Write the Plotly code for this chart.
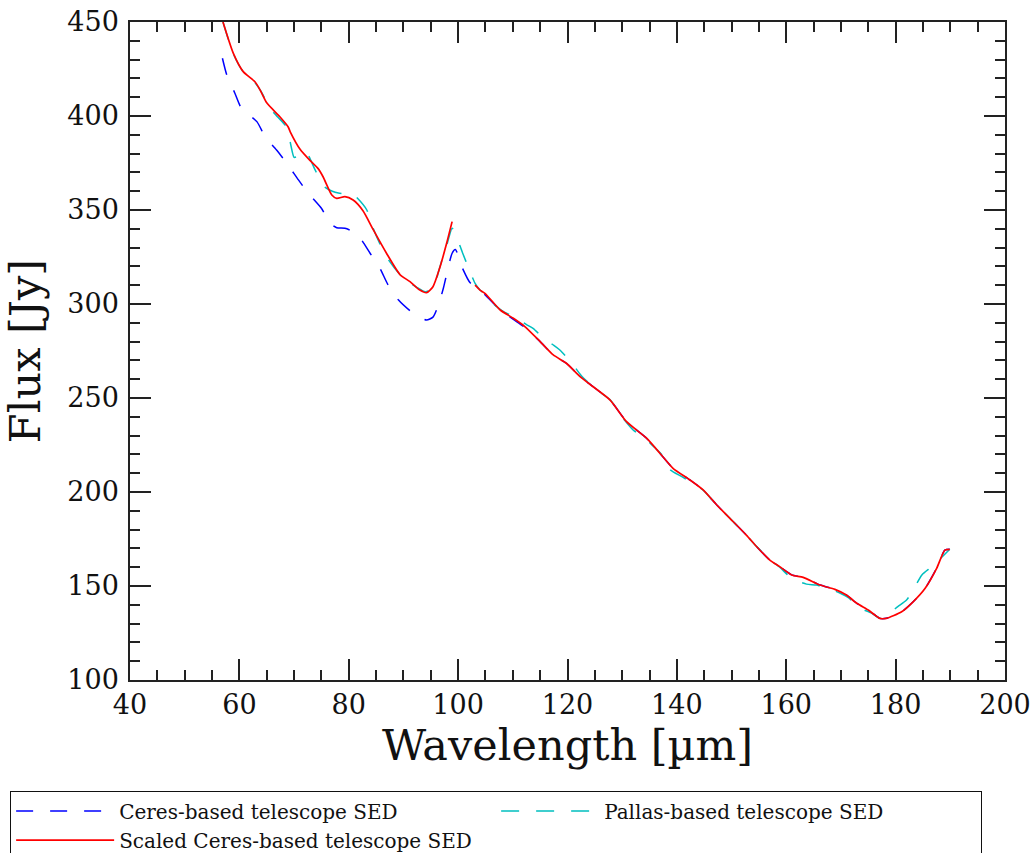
import plotly.graph_objects as go

# ---- data ----
# Ceres-based telescope SED (blue dashed)
ceres_wl = [56.9, 57.7, 59.2, 60.4, 63.2, 64.7, 66.8, 68.9, 70.8, 72.6, 75.0, 76.6, 77.8,
            79.3, 80.8, 82.1, 83.9, 85.7, 87.2, 89.1, 91.8, 94.2, 95.4, 96.4, 97.3, 98.9,
            99.5, 100.8, 102.2, 103.4, 104.9, 107.7, 110.1, 112.2, 115.0, 117.4, 119.8,
            122.3, 124.7, 127.8, 130.8, 134.5, 136.9, 139.3, 142.4, 144.8, 147.3, 149.7,
            152.7, 154.6, 157.0, 158.8, 161.0, 163.1, 166.2, 168.9, 171.0, 172.9, 175.0,
            177.1, 178.3, 181.1, 183.2, 185.4, 187.5, 189.0, 189.9]
ceres_flux = [430.7, 421.8, 412.0, 404.0, 397.0, 389.0, 381.9, 373.9, 366.0, 358.9, 350.9,
              342.9, 340.6, 340.3, 338.5, 335.0, 327.0, 319.0, 310.1, 302.1, 295.0, 291.5,
              293.0, 299.5, 308.4, 327.0, 329.0, 319.0, 311.3, 309.2, 305.0, 296.8, 291.8,
              287.5, 280.0, 272.9, 268.5, 261.4, 256.0, 248.9, 237.4, 228.5, 220.6, 212.6,
              206.4, 201.1, 193.1, 186.0, 177.1, 170.9, 163.8, 160.3, 155.9, 154.6, 150.5,
              148.2, 145.2, 140.8, 137.2, 132.8, 132.8, 136.3, 141.6, 148.8, 159.4, 169.1,
              169.5]

# Pallas-based telescope SED (cyan dashed)
pallas_wl = [57.0, 58.9, 60.7, 62.5, 64.0, 65.5, 67.0, 68.4, 69.3, 70.0, 70.6, 71.3, 72.4,
             73.8, 75.5, 77.0, 78.1, 79.5, 80.5, 81.4, 83.3, 84.5, 85.7, 87.5, 89.4, 91.0,
             92.4, 94.0, 95.5, 96.3, 97.0, 97.9, 98.9, 99.4, 100.8, 102.0, 103.1, 104.0,
             105.0, 106.5, 108.0, 110.7, 112.5, 113.7, 115.9, 117.5, 118.6, 120.8, 122.5,
             125.0, 127.8, 130.5, 132.0, 134.5, 136.0, 137.2, 138.7, 141.0, 144.8, 147.3,
             149.7, 152.7, 154.6, 157.0, 158.8, 161.0, 163.7, 165.5, 167.4, 169.8, 171.5,
             172.9, 175.6, 177.0, 178.0, 180.4, 182.0, 183.2, 184.8, 186.5, 188.0, 189.9]
pallas_flux = [450.0, 433.0, 423.5, 419.0, 413.0, 404.5, 399.5, 395.0, 386.0, 378.0, 378.5,
               381.0, 380.0, 371.6, 362.5, 360.0, 359.0, 358.5, 358.8, 356.8, 350.0, 340.0,
               332.0, 322.5, 315.5, 311.5, 309.0, 306.5, 308.5, 316.0, 323.0, 331.0, 340.3,
               338.0, 327.3, 318.5, 311.0, 307.5, 305.0, 300.0, 296.5, 292.4, 289.0, 287.0,
               281.0, 278.0, 275.5, 268.5, 262.0, 255.0, 249.0, 238.0, 233.0, 227.7, 223.5,
               220.0, 212.0, 208.0, 201.0, 193.0, 186.0, 177.0, 171.0, 164.0, 160.0, 154.0,
               151.0, 150.5, 148.8, 146.3, 143.5, 139.0, 135.6, 133.0, 133.7, 139.0, 142.5,
               147.8, 155.9, 160.0, 164.0, 169.5]

# Scaled Ceres-based telescope SED (red solid, gap near 100 um)
scaled_wl = [57.0, 58.9, 60.7, 62.85, 63.8, 65.0, 67.4, 68.9, 69.3, 71.1, 72.9, 74.4, 75.3,
             76.9, 77.8, 79.3, 80.8, 82.6, 84.5, 86.9, 89.4, 91.2, 93.0, 94.2, 95.4, 96.7,
             97.9, 98.9, None,
             103.1, 104.0, 104.9, 107.7, 110.1, 112.2, 115.0, 117.4, 119.8, 122.3, 124.7,
             127.8, 130.8, 134.5, 136.9, 139.3, 142.4, 144.8, 147.3, 149.7, 152.7, 154.6,
             157.0, 158.8, 161.0, 163.1, 166.2, 168.9, 171.0, 172.9, 175.0, 177.1, 178.3,
             181.1, 183.2, 185.4, 187.5, 189.0, 189.9]
scaled_flux = [450.0, 433.3, 423.6, 418.2, 413.8, 407.0, 399.6, 394.3, 391.6, 382.3, 376.4,
               372.0, 367.7, 358.0, 356.2, 357.1, 355.3, 349.6, 339.4, 327.0, 315.5, 311.9,
               307.4, 306.0, 309.2, 319.8, 332.3, 343.8, None,
               310.0, 307.4, 305.7, 296.8, 292.4, 288.0, 280.0, 272.9, 268.5, 261.4, 256.0,
               248.9, 237.4, 228.5, 220.6, 212.6, 206.4, 201.1, 193.1, 186.0, 177.1, 170.9,
               163.8, 160.3, 155.9, 154.6, 150.5, 148.2, 145.2, 140.8, 137.2, 132.8, 132.8,
               136.3, 141.6, 148.8, 159.4, 169.1, 169.5]

x_ticks = [40, 60, 80, 100, 120, 140, 160, 180, 200]
y_ticks = [100, 150, 200, 250, 300, 350, 400, 450]

FONT = "DejaVu Serif"
AX = "#222222"

fig = go.Figure()
fig.add_trace(go.Scatter(x=ceres_wl, y=ceres_flux, mode="lines",
                         name="Ceres-based telescope SED", legendrank=1,
                         line=dict(color="#0000ff", width=1.5, dash="17px,17px",
                                   shape="spline", smoothing=0.6)))
fig.add_trace(go.Scatter(x=pallas_wl, y=pallas_flux, mode="lines",
                         name="Pallas-based telescope SED", legendrank=2,
                         line=dict(color="#00bfbf", width=1.5, dash="18px,17px",
                                   shape="spline", smoothing=0.6)))
fig.add_trace(go.Scatter(x=scaled_wl, y=scaled_flux, mode="lines",
                         name="Scaled Ceres-based telescope SED", legendrank=3,
                         connectgaps=False,
                         line=dict(color="#ff0000", width=1.7, shape="spline", smoothing=0.6)))

axis_common = dict(
    showline=True, linecolor=AX, linewidth=1.5, mirror="allticks",
    ticks="inside", ticklen=21, tickwidth=1.5, tickcolor=AX,
    showgrid=False, zeroline=False, automargin=False,
    tickfont=dict(family=FONT, size=27, color="#111"),
)

fig.update_xaxes(range=[40, 200], tickvals=x_ticks,
                 minor=dict(ticks="inside", dtick=5, ticklen=10, tickwidth=1.5,
                            tickcolor=AX, showgrid=False),
                 title=dict(text="Wavelength [µm]", font=dict(family=FONT, size=43, color="#111"),
                            standoff=8),
                 **axis_common)
fig.update_yaxes(range=[100, 450], tickvals=y_ticks, ticklabelstandoff=4,
                 minor=dict(ticks="inside", dtick=10, ticklen=10, tickwidth=1.5,
                            tickcolor=AX, showgrid=False),
                 title=dict(text="Flux [Jy]", font=dict(family=FONT, size=43, color="#111"),
                            standoff=14),
                 **axis_common)

fig.update_layout(
    width=1035, height=853,
    margin=dict(l=130, r=30, t=22, b=173, autoexpand=False),
    paper_bgcolor="white", plot_bgcolor="white",
    font=dict(family=FONT, color="#111"),
    showlegend=True,
    legend=dict(orientation="h", x=-0.137, y=-0.168, xanchor="left", yanchor="top",
                itemwidth=98, entrywidth=372, entrywidthmode="pixels",
                bordercolor="#111", borderwidth=1, bgcolor="white",
                font=dict(family=FONT, size=20, color="#111"),
                traceorder="normal"),
)

fig.write_html("out.html")
